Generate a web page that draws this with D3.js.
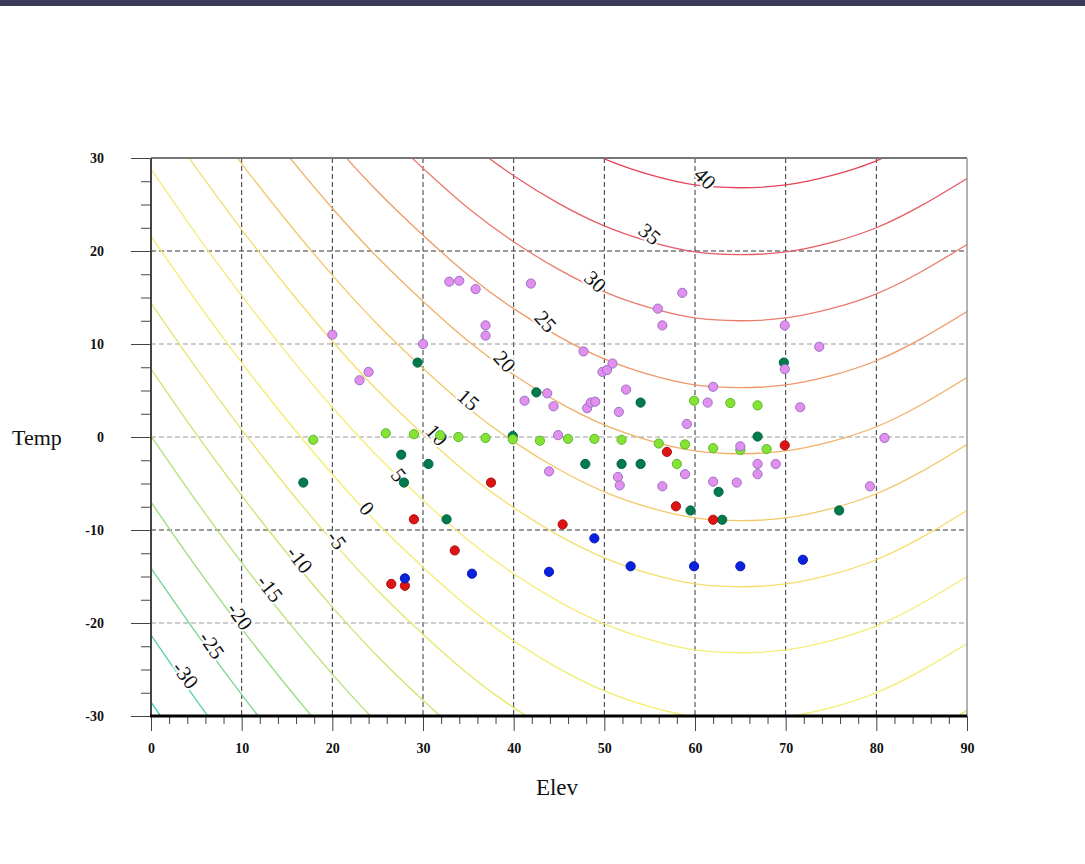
<!DOCTYPE html>
<html>
<head>
<meta charset="utf-8">
<script src="https://cdn.jsdelivr.net/npm/d3@7"></script>
<style>
  body { margin: 0; background: #fff; }
  svg { display: block; }
</style>
</head>
<body>
<svg width="1085" height="864"></svg>
<script>
// contour levels and the temperature each one has at Elev 0 (read / extended from the picture)
const levels   = [-35, -30, -25, -20, -15, -10, -5, 0, 5, 10, 15, 20, 25, 30, 35, 40]
const levelT0  = [-28.5, -21.3, -14.1, -7.0, 0.1, 7.3, 14.4, 21.6, 28.8, 35.9, 43.0, 50.2, 57.3, 64.5, 71.6, 78.8]
const levelColors = ['#3cc8c0', '#55d0b0', '#78d690', '#98dc80', '#b8e078', '#d2e270', '#e6e66c', '#f2ee6c',
    '#f6ec78', '#f4de6c', '#f2c868', '#f0b068', '#ee9868', '#ea7c6c', '#e65c68', '#e44458']

// common shape of every contour: drop of Temp against Elev
const profileElev = [0, 5, 10, 15, 20, 25, 30, 35, 40, 45, 50, 55, 60, 65, 70, 75, 80, 85, 90]
const profileDrop = [0, -7.0, -13.6, -19.8, -25.6, -30.9, -35.6, -39.9, -43.5, -46.5, -48.9, -50.6, -51.7, -52.0,
    -51.7, -50.7, -49.1, -46.7, -43.8]

// contour labels: level, Elev, Temp, rotation
const labelLevels = [40, 35, 30, 25, 20, 15, 10, 5, 0, -5, -10, -15, -20, -25, -30]
const labelElev   = [61.1, 55.0, 49.0, 43.5, 39.0, 35.0, 31.5, 27.3, 23.8, 20.5, 16.4, 13.1, 9.8, 6.7, 3.8]
const labelTemp   = [27.8, 21.8, 16.7, 12.4, 8.1, 4.0, 0.2, -4.1, -7.7, -11.1, -13.2, -16.3, -19.3, -22.4, -25.6]
const labelAngle  = [45, 40, 42, 48, 48, 42, 48, 52, 50, 55, 52, 52, 55, 55, 52]

// observations [Elev, Temp]
const darkGreenPts = [[16.8, -4.9], [27.6, -1.9], [27.9, -4.9], [29.4, 8.0], [30.6, -2.9], [32.6, -8.85],
    [39.9, 0.1], [42.5, 4.8], [47.9, -2.9], [51.9, -2.9], [54.0, 3.7], [54.0, -2.9], [59.5, -7.9],
    [62.6, -5.9], [63.0, -8.9], [66.9, 0.05], [69.8, 8.0], [75.9, -7.9]]
const lightGreenPts = [[17.9, -0.3], [25.9, 0.4], [29.0, 0.3], [31.9, 0.2], [33.9, 0.0], [36.9, -0.1],
    [39.9, -0.25], [42.9, -0.4], [46.0, -0.2], [48.9, -0.2], [51.9, -0.3], [56.0, -0.7], [58.0, -2.9],
    [58.9, -0.8], [59.9, 3.9], [62.0, -1.2], [63.9, 3.65], [65.0, -1.4], [66.9, 3.4], [67.9, -1.3]]
const redPts = [[26.5, -15.8], [28.0, -16.0], [29.0, -8.85], [33.5, -12.2], [37.5, -4.9], [45.4, -9.4],
    [56.9, -1.6], [57.9, -7.45], [62.0, -8.9], [69.9, -0.9]]
const bluePts = [[28.0, -15.2], [35.4, -14.7], [43.9, -14.5], [48.9, -10.9], [52.9, -13.9], [59.9, -13.9],
    [65.0, -13.9], [71.9, -13.2]]
const violetPts = [[20.0, 11.0], [23.0, 6.1], [24.0, 7.0], [30.0, 10.0], [32.9, 16.7], [34.0, 16.8],
    [35.8, 15.9], [36.9, 12.0], [36.9, 10.9], [41.9, 16.5], [41.2, 3.9], [43.7, 4.7], [44.4, 3.3],
    [44.9, 0.2], [43.9, -3.7], [47.7, 9.2], [48.1, 3.1], [48.5, 3.7], [49.0, 3.8], [49.8, 7.0], [50.3, 7.2],
    [50.9, 7.9], [51.6, 2.7], [52.4, 5.1], [51.5, -4.3], [51.7, -5.2], [55.9, 13.8], [56.4, 12.0],
    [56.4, -5.3], [58.6, 15.5], [58.9, -4.0], [59.1, 1.4], [61.4, 3.7], [62.0, 5.4], [62.0, -4.8],
    [64.6, -4.9], [65.0, -1.0], [66.9, -2.9], [66.9, -4.0], [68.9, -2.9], [69.9, 12.0], [69.9, 7.3],
    [71.6, 3.2], [73.7, 9.7], [79.3, -5.3], [80.9, -0.1]]

const xTicks = [0, 10, 20, 30, 40, 50, 60, 70, 80, 90]
const yTicks = [-30, -20, -10, 0, 10, 20, 30]

const serif = '"Liberation Serif", "Times New Roman", serif'

const svg = d3.select('svg')

svg.append('rect')
    .attr('x', 0).attr('y', 0)
    .attr('width', 1085).attr('height', 6)
    .attr('fill', '#3c3a5a')

const x = d3.scaleLinear().domain([0, 90]).range([151, 967])
const y = d3.scaleLinear().domain([-30, 30]).range([716, 158])

svg.append('clipPath').attr('id', 'plot')
    .append('rect')
    .attr('x', x(0)).attr('y', y(30))
    .attr('width', x(90) - x(0)).attr('height', y(-30) - y(30))

// grid
const grid = svg.append('g')
grid.selectAll('.vg').data(xTicks.slice(1, -1)).join('line')
    .attr('x1', d => x(d)).attr('x2', d => x(d))
    .attr('y1', y(30)).attr('y2', y(-30))
    .attr('stroke', '#333').attr('stroke-width', 1).attr('stroke-dasharray', '5,3')
grid.selectAll('.hg').data(yTicks.slice(1, -1)).join('line')
    .attr('x1', x(0)).attr('x2', x(90))
    .attr('y1', d => y(d)).attr('y2', d => y(d))
    .attr('stroke', d => (d === 20 || d === -10) ? '#333' : '#999')
    .attr('stroke-width', 1).attr('stroke-dasharray', '5,3')

// contours
const line = d3.line()
    .x(d => x(d[0]))
    .y(d => y(d[1]))
    .curve(d3.curveNatural)

svg.append('g')
    .attr('clip-path', 'url(#plot)')
    .selectAll('path')
    .data(levels)
    .join('path')
    .attr('d', (lv, i) => line(profileElev.map((e, j) => [e, levelT0[i] + profileDrop[j]])))
    .attr('fill', 'none')
    .attr('stroke', (lv, i) => levelColors[i])
    .attr('stroke-width', 1.3)

// contour labels
svg.append('g')
    .selectAll('text')
    .data(labelLevels)
    .join('text')
    .attr('transform', (d, i) => `translate(${x(labelElev[i])},${y(labelTemp[i])}) rotate(${labelAngle[i]})`)
    .attr('text-anchor', 'middle')
    .attr('dominant-baseline', 'central')
    .attr('font-family', serif)
    .attr('font-size', 21)
    .attr('fill', '#111')
    .attr('stroke', '#fff')
    .attr('stroke-width', 4)
    .attr('paint-order', 'stroke')
    .text(d => String(d))

// axes
const yAxis = svg.append('g')
    .attr('transform', `translate(${x(0)},0)`)
    .call(d3.axisLeft(y).tickValues(yTicks).tickSize(20).tickPadding(27).tickFormat(d => String(d)))
const yMinor = svg.append('g')
    .attr('transform', `translate(${x(0)},0)`)
    .call(d3.axisLeft(y).tickValues(d3.range(-30, 30.1, 2.5).filter(v => v % 10 !== 0)).tickSize(10).tickFormat(''))
const xAxis = svg.append('g')
    .attr('transform', `translate(0,${y(-30)})`)
    .call(d3.axisBottom(x).tickValues(xTicks).tickSize(15).tickPadding(12).tickFormat(d => String(d)))
const xMinor = svg.append('g')
    .attr('transform', `translate(0,${y(-30)})`)
    .call(d3.axisBottom(x).tickValues(d3.range(0, 91, 2).filter(v => v % 10 !== 0)).tickSize(8).tickFormat(''))

;[yAxis, yMinor, xAxis, xMinor].forEach(a => {
    a.select('.domain').remove()
    a.selectAll('line').attr('stroke', '#444')
    a.selectAll('text')
        .attr('font-family', serif)
        .attr('font-weight', 'bold')
        .attr('font-size', 14)
        .attr('fill', '#111')
})

// frame
svg.append('line')
    .attr('x1', x(0)).attr('x2', x(90)).attr('y1', y(30)).attr('y2', y(30))
    .attr('stroke', '#777').attr('stroke-width', 2)
svg.append('line')
    .attr('x1', x(90)).attr('x2', x(90)).attr('y1', y(30)).attr('y2', y(-30))
    .attr('stroke', '#999').attr('stroke-width', 1.5)
svg.append('line')
    .attr('x1', x(0)).attr('x2', x(0)).attr('y1', y(30)).attr('y2', y(-30))
    .attr('stroke', '#444').attr('stroke-width', 2)
svg.append('line')
    .attr('x1', x(0) - 1).attr('x2', x(90)).attr('y1', y(-30)).attr('y2', y(-30))
    .attr('stroke', '#000').attr('stroke-width', 3)

// points
const groups = [
    { pts: darkGreenPts, fill: '#007a4c', stroke: '#006840' },
    { pts: lightGreenPts, fill: '#86e234', stroke: '#58b82a' },
    { pts: redPts, fill: '#dd1414', stroke: '#b01010' },
    { pts: bluePts, fill: '#0a22e0', stroke: '#0818b0' },
    { pts: violetPts, fill: '#e290ee', stroke: '#9c70c8' }
]
groups.forEach(g => {
    svg.append('g')
        .selectAll('circle')
        .data(g.pts)
        .join('circle')
        .attr('cx', d => x(d[0]))
        .attr('cy', d => y(d[1]))
        .attr('r', 4.6)
        .attr('fill', g.fill)
        .attr('stroke', g.stroke)
        .attr('stroke-width', 1)
})

// titles
svg.append('text')
    .attr('x', 12).attr('y', 437)
    .attr('dominant-baseline', 'central')
    .attr('font-family', serif)
    .attr('font-size', 22)
    .attr('fill', '#111')
    .text('Temp')
svg.append('text')
    .attr('x', 557).attr('y', 787)
    .attr('text-anchor', 'middle')
    .attr('dominant-baseline', 'central')
    .attr('font-family', serif)
    .attr('font-size', 23)
    .attr('fill', '#111')
    .text('Elev')
</script>
</body>
</html>
